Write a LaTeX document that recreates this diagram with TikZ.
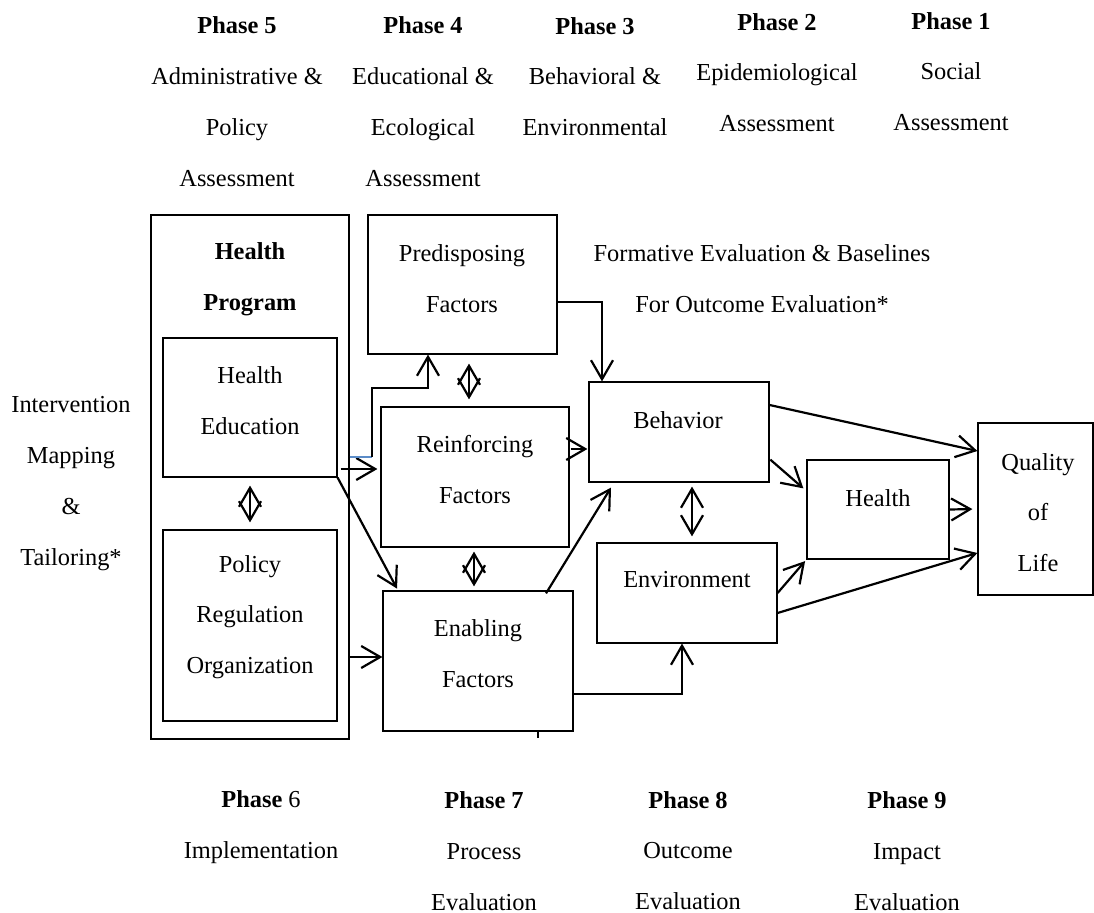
\documentclass[tikz,border=0pt]{standalone}
\usepackage{fontspec}
\setmainfont{Liberation Serif}
\usetikzlibrary{arrows.meta,positioning}
\definecolor{tickblue}{RGB}{91,140,200}

\begin{document}
\begin{tikzpicture}[x=0.5pt,y=-0.5pt,>={Straight Barb[length=9.5pt,width=11pt]},
    box/.style={draw,line width=0.6pt,inner sep=0pt},
    txt/.style={align=center,inner sep=0pt,font=\fontsize{12.2}{25.4}\selectfont},
    arr/.style={->,line width=1.1pt},
    dbl/.style={<->,line width=1.1pt}]

    \useasboundingbox (0,0) rectangle (1094,913);

    % phase headings
    \node[txt] (p5) at (237,101.5) {\textbf{Phase 5}\\Administrative \&\\Policy\\Assessment};
    \node[txt] (p4) at (423,101.5) {\textbf{Phase 4}\\Educational \&\\Ecological\\Assessment};
    \node[txt] (p3) at (595,76.5) {\textbf{Phase 3}\\Behavioral \&\\Environmental};
    \node[txt] (p2) at (777,72.5) {\textbf{Phase 2}\\Epidemiological\\Assessment};
    \node[txt] (p1) at (951,71.5) {\textbf{Phase 1}\\Social\\Assessment};
    \node[txt] (p6) at (261,827) {\textbf{Phase} 6\\Implementation};
    \node[txt] (p7) at (484,851) {\textbf{Phase 7}\\Process\\Evaluation};
    \node[txt] (p8) at (688,850.5) {\textbf{Phase 8}\\Outcome\\Evaluation};
    \node[txt] (p9) at (907,851) {\textbf{Phase 9}\\Impact\\Evaluation};
    \node[txt] (map) at (71,483.5) {Intervention\\Mapping\\\&\\Tailoring*};
    \node[txt] (form) at (762,279) {Formative Evaluation \& Baselines\\For Outcome Evaluation*};

    % boxes
    \node[box,minimum width=99pt,minimum height=262pt] (prog) at (250,477) {};
    \node[box,minimum width=87pt,minimum height=69.5pt] (edu) at (250,407.5) {};
    \node[box,minimum width=87pt,minimum height=95.5pt] (pol) at (250,625.5) {};
    \node[box,minimum width=94.5pt,minimum height=69.5pt] (pre) at (462.5,284.5) {};
    \node[box,minimum width=94pt,minimum height=70pt] (rei) at (475,477) {};
    \node[box,minimum width=95pt,minimum height=70pt] (ena) at (478,661) {};
    \node[box,minimum width=90pt,minimum height=50pt] (beh) at (679,432) {};
    \node[box,minimum width=90pt,minimum height=50pt] (env) at (687,593) {};
    \node[box,minimum width=71pt,minimum height=49.5pt] (hea) at (878,509.5) {};
    \node[box,minimum width=57.5pt,minimum height=86pt] (qol) at (1035.5,509) {};

    % box texts
    \node[txt] (prog-t) at (250,279.5) {\textbf{Health}\\\textbf{Program}};
    \node[txt] (edu-t) at (250,401) {Health\\Education};
    \node[txt] (pol-t) at (250,617) {Policy\\Regulation\\Organization};
    \node[txt] (pre-t) at (462,278.5) {Predisposing\\Factors};
    \node[txt] (rei-t) at (475,469.5) {Reinforcing\\Factors};
    \node[txt] (ena-t) at (478,653.5) {Enabling\\Factors};
    \node[txt] (beh-t) at (678,420) {Behavior};
    \node[txt] (env-t) at (687,580) {Environment};
    \node[txt] (hea-t) at (878,498) {Health};
    \node[txt] (qol-t) at (1038,512.5) {Quality\\of\\Life};

    \coordinate (elb) at (372,457);
    \coordinate (tick) at (538,738);

    % arrows
    \draw[arr,shorten <=1.5pt,shorten >=1.5pt] ([yshift=-30.75pt]edu.east) -- ([yshift=4pt]rei.west);
    \draw[line width=0.8pt,tickblue] ([yshift=10pt]prog.east) -- (elb);
    \draw[arr] (elb) -- ++(0,-69) -| ([xshift=-17.25pt]pre.south);
    \draw[arr,shorten >=1pt] (edu.south east) -- ([xshift=-40pt]ena.north);
    \draw[arr] ([yshift=-90pt]prog.east) -- ([yshift=2pt]ena.west);
    \draw[arr] ([yshift=-8.75pt]pre.east) -| ([xshift=-38.5pt]beh.north);
    \draw[arr,shorten <=0.5pt,shorten >=0.5pt] ([yshift=14pt]rei.east) -- ([yshift=-8.5pt]beh.west);
    \draw[arr] ([xshift=34pt,yshift=-1.5pt]ena.north) -- ([xshift=-34pt,yshift=-2.5pt]beh.south);
    \draw[arr] ([yshift=-16.5pt]ena.east) -| ([xshift=-2.5pt]env.south);
    \draw[arr,shorten <=0.5pt,shorten >=2pt] ([yshift=-13.5pt]beh.east) -- ([yshift=9.25pt]hea.west);
    \draw[arr,shorten >=1pt] (env.east) -- (hea.south west);
    \draw[arr] ([yshift=13.5pt]beh.east) -- ([yshift=29pt]qol.west);
    \draw[arr,shorten >=2.5pt] (hea.east) -- (qol.west);
    \draw[arr] ([yshift=-10pt]env.east) -- ([yshift=-22pt]qol.west);
    \draw[line width=0.8pt] ([xshift=30pt]ena.south) -- (tick);

    % two-way links
    \draw[dbl,shorten <=4.5pt,shorten >=3.5pt] ([xshift=3.25pt]pre.south) -- ([xshift=-3pt]rei.north);
    \draw[dbl,shorten <=2pt,shorten >=2pt] ([xshift=-0.5pt]rei.south) -- ([xshift=-2pt]ena.north);
    \draw[dbl,shorten <=4pt,shorten >=3.5pt] (edu.south) -- (pol.north);
    \draw[dbl,shorten <=2pt,shorten >=3pt] ([xshift=6.5pt]beh.south) -- ([xshift=2.5pt]env.north);

\end{tikzpicture}
\end{document}
